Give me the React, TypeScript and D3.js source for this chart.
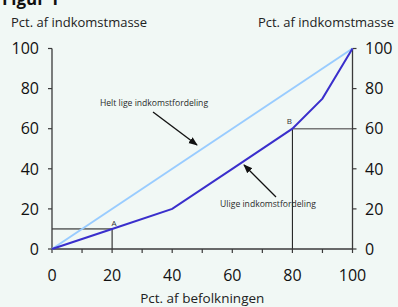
import React from "react";
import * as d3 from "d3";

const W = 398, H = 307;
const popShare = [0, 20, 40, 60, 80, 90, 100];
const incomeShare = [0, 10, 20, 40, 60, 75, 100];
const equalityX = [0, 100];
const equalityY = [0, 100];
const xTicks = [0, 20, 40, 60, 80, 100];
const xMinorTicks = [0, 10, 20, 30, 40, 50, 60, 70, 80, 90, 100];
const yTicks = [0, 20, 40, 60, 80, 100];
const pointA = { x: 20, y: 10, label: "A" };
const pointB = { x: 80, y: 60, label: "B" };
const title = "Figur 1";
const yTitle = "Pct. af indkomstmasse";
const xTitle = "Pct. af befolkningen";
const labelEqual = "Helt lige indkomstfordeling";
const labelUnequal = "Ulige indkomstfordeling";

export default function App() {
  const x = d3.scaleLinear().domain([0, 100]).range([52, 352.5]);
  const y = d3.scaleLinear().domain([0, 100]).range([249, 48.5]);
  const line = d3.line<number>().x((_, i) => x(popShare[i])).y((d) => y(d));
  const eqLine = d3.line<number>().x((_, i) => x(equalityX[i])).y((d) => y(d));
  const font = "'Open Sans', sans-serif";
  const axisColor = "#3a3a3a";
  return (
    <svg width={W} height={H} style={{ position: "absolute", left: 0, top: 0, background: "#f1f8f5" }} fontFamily={font}>
      <defs>
        <marker id="ah" viewBox="0 0 10 10" refX="9" refY="5" markerWidth="7" markerHeight="7" orient="auto">
          <path d="M0,1 L10,5 L0,9 z" fill="#111" />
        </marker>
      </defs>
      <text x={2} y={5} fontSize={17} fontWeight="bold" fill="#111">{title}</text>
      <text x={11} y={27} fontSize={13} fill="#222">{yTitle}</text>
      <text x={394} y={27} fontSize={13} fill="#222" textAnchor="end">{yTitle}</text>
      <text x={(x(0) + x(100)) / 2} y={303} fontSize={13.5} fill="#222" textAnchor="middle">{xTitle}</text>

      {/* reference lines */}
      <line x1={x(0)} x2={x(pointA.x)} y1={y(pointA.y)} y2={y(pointA.y)} stroke="#111" strokeWidth={1} />
      <line x1={x(pointA.x)} x2={x(pointA.x)} y1={y(0)} y2={y(pointA.y)} stroke="#111" strokeWidth={1} />
      <line x1={x(pointB.x)} x2={x(pointB.x)} y1={y(0)} y2={y(pointB.y)} stroke="#111" strokeWidth={1} />
      <line x1={x(pointB.x)} x2={x(100)} y1={y(pointB.y)} y2={y(pointB.y)} stroke="#777" strokeWidth={1.6} />

      {/* axes */}
      <line x1={x(0)} x2={x(0)} y1={y(0)} y2={y(100)} stroke={axisColor} strokeWidth={1.3} />
      <line x1={x(100)} x2={x(100)} y1={y(0)} y2={y(100)} stroke={axisColor} strokeWidth={1.3} />
      <line x1={x(0)} x2={x(100)} y1={y(0)} y2={y(0)} stroke={axisColor} strokeWidth={1.3} />
      {xMinorTicks.map((t) => (
        <line key={"xt" + t} x1={x(t)} x2={x(t)} y1={y(0)} y2={y(0) + 4} stroke={axisColor} strokeWidth={1.2} />
      ))}
      {yTicks.map((t) => (
        <g key={"yt" + t}>
          <line x1={x(0) - 4} x2={x(0)} y1={y(t)} y2={y(t)} stroke={axisColor} strokeWidth={1.2} />
          <line x1={x(100)} x2={x(100) + 4} y1={y(t)} y2={y(t)} stroke={axisColor} strokeWidth={1.2} />
          <text x={39} y={y(t)} dy="0.36em" fontSize={16} textAnchor="end" fill="#111">{t}</text>
          <text x={365} y={y(t)} dy="0.36em" fontSize={16} textAnchor="start" fill="#111">{t}</text>
        </g>
      ))}
      {xTicks.map((t) => (
        <text key={"xl" + t} x={x(t)} y={281} fontSize={16} textAnchor="middle" fill="#111">{t}</text>
      ))}

      {/* data lines */}
      <path d={eqLine(equalityY) || ""} fill="none" stroke="#99ccff" strokeWidth={2} />
      <path d={line(incomeShare) || ""} fill="none" stroke="#3a2fcc" strokeWidth={2} />

      {/* point labels */}
      <text x={x(pointA.x) + 2} y={y(pointA.y) - 3} fontSize={8} textAnchor="middle" fill="#333">{pointA.label}</text>
      <text x={x(pointB.x) - 3} y={y(pointB.y) - 5} fontSize={8} textAnchor="middle" fill="#333">{pointB.label}</text>

      {/* annotations */}
      <text x={154} y={106} fontSize={8.6} textAnchor="middle" fill="#2a2a2a">{labelEqual}</text>
      <line x1={153} y1={112} x2={197} y2={145} stroke="#111" strokeWidth={1.3} markerEnd="url(#ah)" />
      <text x={268} y={207} fontSize={8.6} textAnchor="middle" fill="#2a2a2a">{labelUnequal}</text>
      <line x1={276} y1={197} x2={244} y2={165} stroke="#111" strokeWidth={1.3} markerEnd="url(#ah)" />
    </svg>
  );
}
